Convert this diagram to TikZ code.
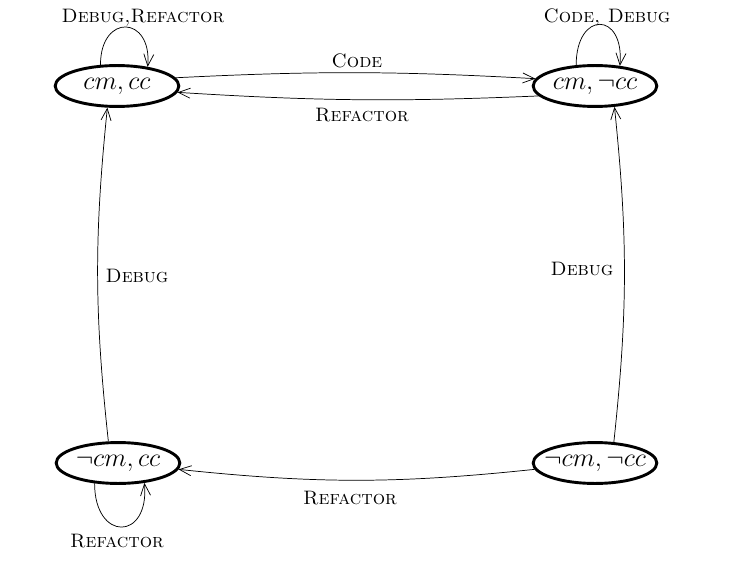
\documentclass[tikz,border=0pt]{standalone}
\usetikzlibrary{shapes.geometric,arrows.meta}

\tikzset{
  state/.style={draw, ellipse, line width=1.6pt, minimum width=68pt, minimum height=22.5pt, inner xsep=-8pt, inner ysep=-3pt, font=\Large},
  trans/.style={-{Straight Barb[length=6.5pt,width=5.5pt]}},
  lbl/.style={anchor=base, font=\fontsize{10.7pt}{13pt}\selectfont}
}

\begin{document}
\begin{tikzpicture}[x=0.55pt,y=0.55pt]
\useasboundingbox (0,0) rectangle (734,566);

% States
\node[state] (cmcc) at (117,480) {$cm, cc$};
\node[state] (cmncc) at (595,480) {$cm, \neg cc$};
\node[state] (ncmcc) at (118,103) {$\neg cm, cc$};
\node[state] (ncmncc) at (595,103) {$\neg cm, \neg cc$};

% Transitions
\draw[trans] (cmcc.8) to[bend left=3] (cmncc.173);
\draw[trans] (cmncc.-170) to[bend left=3] (cmcc.-6);
\draw[trans] (ncmncc.186) to[bend left=6] (ncmcc.-6);
\draw[trans] (ncmcc.114) to[bend left=6] (cmcc.246);
\draw[trans] (ncmncc.48) to[bend right=6] (cmncc.-47);

% Loops
\draw[trans] (cmcc.128) to[out=90,in=85,looseness=2.8] (cmcc.32);
\draw[trans] (cmncc.132) to[out=90,in=85,looseness=3.2] (cmncc.39);
\draw[trans] (ncmcc.-139) to[out=-90,in=-85,looseness=3] (ncmcc.-37);

% Text Node
\node[lbl] (lcode) at (357,498) {\textsc{Code}};
% Text Node
\node[lbl] (lreftop) at (362,444) {\textsc{Refactor}};
% Text Node
\node[lbl] (lrefbot) at (350,62) {\textsc{Refactor}};
% Text Node
\node[lbl] (ldebl) at (137,284) {\textsc{Debug}};
% Text Node
\node[lbl] (ldebr) at (582,291) {\textsc{Debug}};
% Text Node
\node[lbl] (lloopa) at (143,543) {\textsc{Debug,Refactor}};
% Text Node
\node[lbl] (lloopb) at (607,543) {\textsc{Code, Debug}};
% Text Node
\node[lbl] (lloopc) at (117,19) {\textsc{Refactor}};

\end{tikzpicture}
\end{document}
